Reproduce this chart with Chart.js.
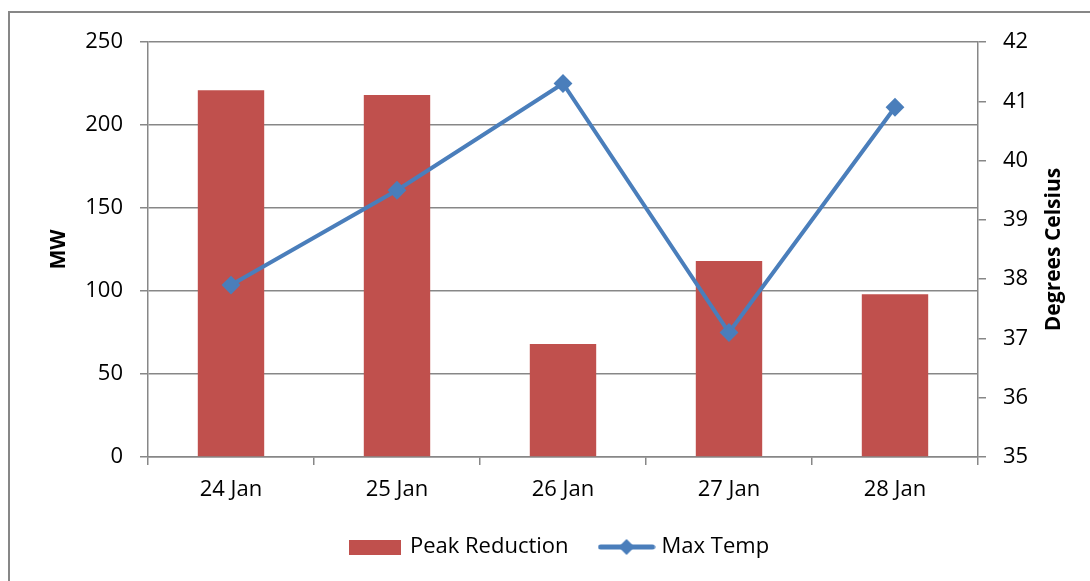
<!DOCTYPE html>
<html>
<head>
<meta charset="utf-8">
<script src="https://cdn.jsdelivr.net/npm/chart.js@4"></script>
<style>
  html, body { margin: 0; padding: 0; background: #fff; overflow: hidden; }
  #frame { position: absolute; left: 8px; top: 11px; width: 1100px; height: 600px; border: 2px solid #878787; box-sizing: border-box; }
  #wrap { position: absolute; left: 0; top: 0; width: 1090px; height: 581px; }
</style>
</head>
<body>
<div id="frame"></div>
<div id="wrap"><canvas id="c" width="1090" height="581"></canvas></div>
<script>
// data
const days = ['24 Jan', '25 Jan', '26 Jan', '27 Jan', '28 Jan'];
const peakReduction = [221, 218, 68, 118, 98];
const maxTemp = [37.9, 39.5, 41.3, 37.1, 40.9];
const mwTicks = [0, 50, 100, 150, 200, 250];
const tempTicks = [35, 36, 37, 38, 39, 40, 41, 42];

const FONT = '"Open Sans", "Noto Sans", sans-serif';
const GRID = '#878787';
const RED = '#c0504d';
const BLUE = '#4a7ebb';

// legend icons
function swatch(w, h, draw) {
    const c = document.createElement('canvas');
    c.width = w; c.height = h;
    draw(c.getContext('2d'));
    return c;
}
const barIcon = swatch(52, 15, g => { g.fillStyle = RED; g.fillRect(0, 0, 52, 15); });
const lineIcon = swatch(58, 18, g => {
    g.strokeStyle = BLUE; g.lineWidth = 5; g.lineCap = 'round';
    g.beginPath(); g.moveTo(3, 9); g.lineTo(55, 9); g.stroke();
    g.fillStyle = BLUE;
    g.beginPath(); g.moveTo(29, 1); g.lineTo(37, 9); g.lineTo(29, 17); g.lineTo(21, 9); g.closePath(); g.fill();
});

// right axis title reads bottom-to-top, like the left one
const rightTitle = {
    id: 'rightTitle',
    afterDraw(chart) {
        const s = chart.scales.y1, a = chart.chartArea, ctx = chart.ctx;
        ctx.save();
        ctx.translate(s.right - 36, (a.top + a.bottom) / 2);
        ctx.rotate(-Math.PI / 2);
        ctx.font = 'bold 21px ' + FONT;
        ctx.fillStyle = '#000';
        ctx.textAlign = 'center';
        ctx.textBaseline = 'middle';
        ctx.fillText('Degrees Celsius', 0, 0);
        ctx.restore();
    }
};

new Chart(document.getElementById('c'), {
    data: {
        labels: days,
        datasets: [
            { type: 'bar', label: 'Peak Reduction', data: peakReduction, backgroundColor: RED, yAxisID: 'y', barPercentage: 0.4, categoryPercentage: 1, order: 2 },
            { type: 'line', label: 'Max Temp', data: maxTemp, borderColor: BLUE, backgroundColor: BLUE, borderWidth: 4, tension: 0,
              pointStyle: 'rectRot', pointRadius: 8, pointBorderWidth: 2, yAxisID: 'y1', order: 1 }
        ]
    },
    options: {
        responsive: false, animation: false, devicePixelRatio: 1,
        layout: { padding: { left: 30, right: 0, top: 42, bottom: 13 } },
        plugins: {
            tooltip: { enabled: false },
            legend: {
                position: 'bottom',
                labels: {
                    usePointStyle: true, pointStyleWidth: 48, padding: 34, color: '#000',
                    font: { family: FONT, size: 22 },
                    generateLabels(chart) {
                        const items = Chart.defaults.plugins.legend.labels.generateLabels(chart);
                        items.forEach(it => { it.pointStyle = it.datasetIndex === 0 ? barIcon : lineIcon; });
                        return items.sort((a, b) => a.datasetIndex - b.datasetIndex);
                    }
                }
            }
        },
        scales: {
            x: {
                grid: { offset: true, drawOnChartArea: false, tickLength: 8, color: GRID, lineWidth: 1.5 },
                border: { color: GRID, width: 1.5 },
                ticks: { color: '#000', font: { family: FONT, size: 22 }, padding: 12 },
                afterFit(s) { s.height = 45; }
            },
            y: {
                position: 'left',
                min: mwTicks[0], max: mwTicks[mwTicks.length - 1],
                ticks: { stepSize: mwTicks[1] - mwTicks[0], color: '#000', font: { family: FONT, size: 22 }, padding: 17 },
                grid: { color: GRID, lineWidth: 1.5, tickLength: 8 },
                border: { color: GRID, width: 1.5 },
                title: { display: true, text: 'MW', color: '#000', font: { family: FONT, size: 21, weight: 'bold' }, padding: { top: 16, bottom: 0 } },
                afterFit(s) { s.width = 118; }
            },
            y1: {
                position: 'right',
                min: tempTicks[0], max: tempTicks[tempTicks.length - 1],
                ticks: { stepSize: tempTicks[1] - tempTicks[0], color: '#000', font: { family: FONT, size: 22 }, padding: 17 },
                grid: { drawOnChartArea: false, color: GRID, lineWidth: 1.5, tickLength: 8 },
                border: { color: GRID, width: 1.5 },
                afterFit(s) { s.width = 112; }
            }
        }
    },
    plugins: [rightTitle]
});
</script>
</body>
</html>
